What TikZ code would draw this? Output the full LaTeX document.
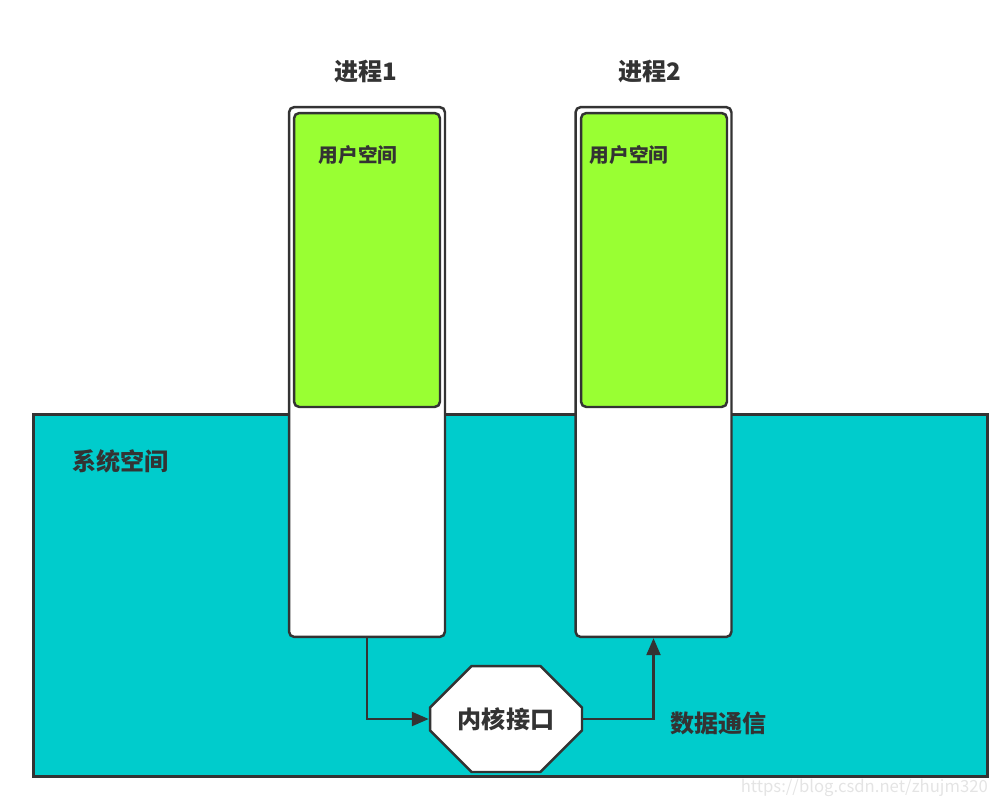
\documentclass[tikz,border=0pt]{standalone}
\usepackage{fontspec}
\setmainfont{Noto Sans CJK SC}
\usetikzlibrary{arrows.meta,positioning,shapes.misc}
\definecolor{G-dark}{RGB}{51,51,51}
\definecolor{SysTeal}{RGB}{0,204,204}
\definecolor{UserGreen}{RGB}{153,255,51}
\definecolor{MarkGray}{RGB}{228,228,228}
\tikzset{
  system/.style={draw=G-dark, fill=SysTeal, line width=1.7pt, minimum width=19.1cm, minimum height=7.26cm, inner sep=0pt},
  process/.style={draw=G-dark, fill=white, rounded corners=3pt, line width=1.4pt, minimum width=3.12cm, minimum height=10.6cm, inner sep=0pt},
  userspace/.style={draw=G-dark, fill=UserGreen, rounded corners=3pt, line width=1.4pt, minimum width=2.92cm, minimum height=5.88cm, inner sep=0pt},
  kernel/.style={draw=G-dark, fill=white, text=G-dark, chamfered rectangle, chamfered rectangle xsep=0.6cm, chamfered rectangle ysep=0.6cm, line width=1.4pt, minimum width=3.04cm, minimum height=2.12cm, inner sep=0pt, font=\bfseries\fontsize{13.7}{15}\selectfont},
  title/.style={text=G-dark, font=\bfseries\fontsize{13.7}{15}\selectfont},
  tag/.style={text=G-dark, font=\bfseries\fontsize{11.2}{13}\selectfont},
  arrow/.style={-{Triangle[length=3.4mm,width=2.8mm]}, line width=1.3pt, draw=G-dark}
}
\begin{document}
\begin{tikzpicture}[x=0.02cm,y=-0.02cm]
\useasboundingbox (0,0) rectangle (1006,805);
\node[system] (sys) at (510.5,595.5) {};
\node[title, anchor=west] (syslabel) at (66,461) {系统空间};
\node[process] (proc1) at (367,372) {};
\node[process] (proc2) at (653.5,372) {};
\node[userspace] (user1) at (367,260) {};
\node[userspace] (user2) at (654,260) {};
\node[tag] (userlabel1) at (358,155) {用户空间};
\node[tag] (userlabel2) at (629,155) {用户空间};
\node[title] (name1) at (366,72) {进程1};
\node[title] (name2) at (650,72) {进程2};
\node[kernel] (kernel) at (506,719) {内核接口};
\node[title, anchor=west] (comm) at (664,723) {数据通信};
\node[text=MarkGray, font=\fontsize{9.5}{10}\selectfont, anchor=east] (mark) at (994,788) {https://blog.csdn.net/zhujm320};

\draw[arrow] (proc1.south) |- (kernel.west);
\draw[arrow] (kernel.east) -| (proc2.south);
\end{tikzpicture}
\end{document}
